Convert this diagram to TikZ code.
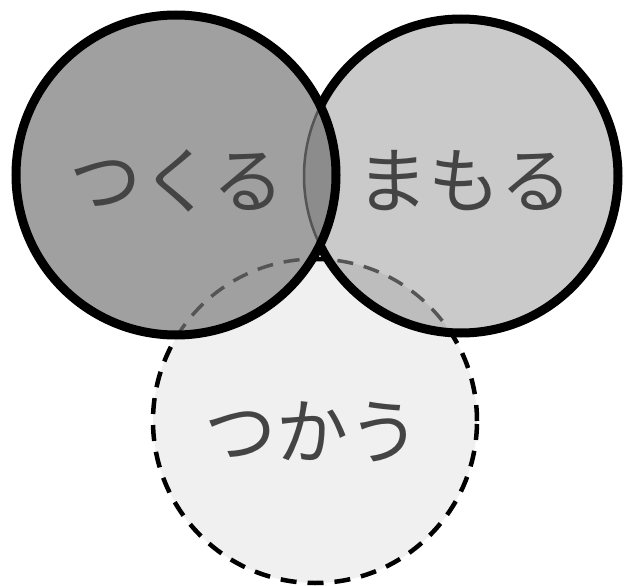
\documentclass[tikz,border=0pt]{standalone}
\usepackage{fontspec}
\newfontfamily\jp{Noto Sans CJK JP}
\definecolor{leftfill}{HTML}{A0A0A0}
\definecolor{rightfill}{HTML}{CACACA}
\definecolor{lensfill}{HTML}{8C8C8C}
\definecolor{botfill}{HTML}{F0F0F0}
\definecolor{rbfill}{HTML}{BDBDBD}
\definecolor{txt}{HTML}{444444}
\definecolor{ghost}{HTML}{555555}
\tikzset{
  ring/.style={draw=black, line width=9pt},
  dashring/.style={draw=black, line width=4.5pt, dash pattern=on 16pt off 11pt},
  ghostdash/.style={draw=ghost, line width=3.5pt, dash pattern=on 16pt off 11pt},
  label/.style={font=\jp\fontsize{72}{72}\selectfont, text=txt, inner sep=0pt}
}
\begin{document}
\begin{tikzpicture}[x=1pt,y=-1pt]
\useasboundingbox (0,0) rectangle (627,586);
\fill[white] (0,0) rectangle (627,586);
\coordinate (L) at (176,175);
\coordinate (R) at (461,176);
\coordinate (B) at (315,421);
% bottom circle
\fill[botfill] (B) circle[radius=162pt];
\path[dashring] (B) circle[radius=162pt];
% right circle
\fill[rightfill] (R) circle[radius=157pt];
\begin{scope}
  \clip (R) circle[radius=157pt];
  \fill[rbfill] (B) circle[radius=162pt];
  \path[ghostdash] (B) circle[radius=162pt];
\end{scope}
\path[ring] (R) circle[radius=157pt];
% left circle
\fill[leftfill] (L) circle[radius=160pt];
\begin{scope}
  \clip (L) circle[radius=160pt];
  \fill[lensfill] (R) circle[radius=157pt];
  \draw[ghost, line width=2.5pt] (R) circle[radius=157pt];
  \path[ghostdash] (B) circle[radius=162pt];
\end{scope}
\path[ring] (L) circle[radius=160pt];
% labels
\node[label] (tsukuru) at (177,181) {つくる};
\node[label] (mamoru) at (464,181) {まもる};
\node[label] (tsukau) at (312,432) {つかう};
\end{tikzpicture}
\end{document}
